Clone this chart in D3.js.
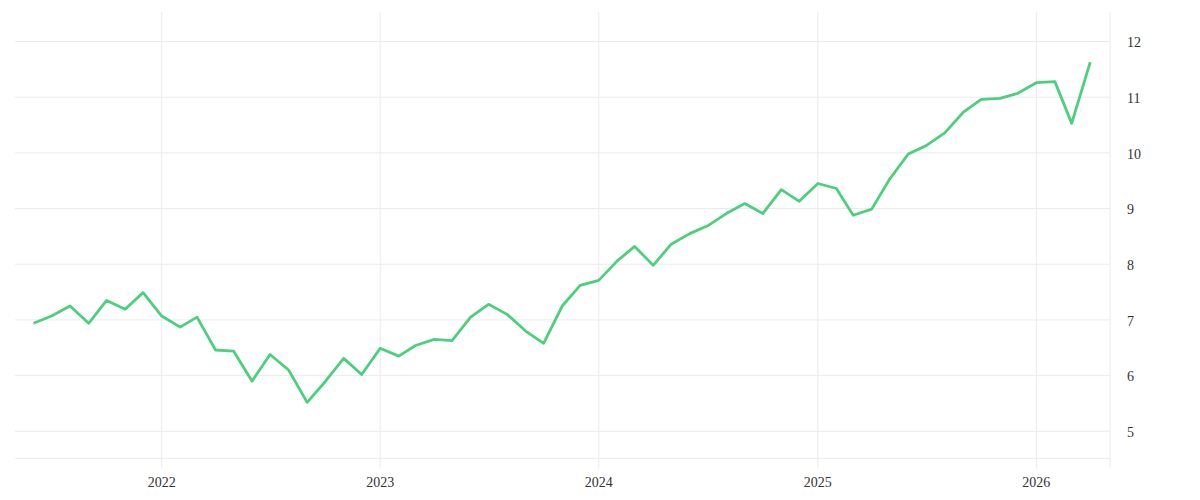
<!DOCTYPE html>
<html>
<head>
<meta charset="utf-8">
<script src="https://cdn.jsdelivr.net/npm/d3@7"></script>
<style>
  body { margin: 0; background: #fff; }
  text { font-family: "Liberation Serif", "DejaVu Serif", serif; fill: #333; }
</style>
</head>
<body>
<div id="chart"></div>
<script>
// monthly observations, Jun 2021 .. Apr 2026
var firstMonth = "2021-06-01";
var lastMonth = "2026-04-01";
var values = [
  6.94, 7.07, 7.25, 6.94, 7.35, 7.19, 7.49,
  7.07, 6.87, 7.05, 6.46, 6.44, 5.90, 6.38, 6.10, 5.52, 5.89, 6.31, 6.02,
  6.49, 6.35, 6.54, 6.65, 6.63, 7.05, 7.28, 7.10, 6.80, 6.58, 7.25, 7.62,
  7.71, 8.06, 8.32, 7.98, 8.36, 8.55, 8.69, 8.91, 9.09, 8.91, 9.34, 9.13,
  9.45, 9.36, 8.88, 8.99, 9.53, 9.98, 10.13, 10.36, 10.73, 10.96, 10.98, 11.07,
  11.26, 11.28, 10.53, 11.63
];
var yearTicks = ["2022", "2023", "2024", "2025", "2026"];
var valueTicks = [5, 6, 7, 8, 9, 10, 11, 12];

var parse = d3.timeParse("%Y-%m-%d");
var months = d3.timeMonth.range(parse(firstMonth), d3.timeMonth.offset(parse(lastMonth), 1));
var data = months.map(function(m, i) { return {date: m, value: values[i]}; });

var W = 1200, H = 500;
var plotLeft = 15, plotRight = 1110, plotTop = 12, plotBottom = 458.3;

var svg = d3.select("#chart")
  .append("svg")
    .attr("width", W)
    .attr("height", H);

var x = d3.scaleTime()
  .domain([new Date(2021, 4, 1), new Date(2026, 4, 4)])
  .range([plotLeft, plotRight]);

var y = d3.scaleLinear()
  .domain([4.515, 12.53])
  .range([plotBottom, plotTop]);

var grid = svg.append("g").attr("stroke", "#ebebeb").attr("stroke-width", 1);

// horizontal grid
grid.selectAll("line.h")
  .data(valueTicks)
  .enter()
  .append("line")
    .attr("x1", plotLeft)
    .attr("x2", plotRight)
    .attr("y1", function(d) { return y(d); })
    .attr("y2", function(d) { return y(d); });

// bottom frame line
grid.append("line")
  .attr("x1", plotLeft).attr("x2", plotRight)
  .attr("y1", plotBottom).attr("y2", plotBottom);

// vertical grid at years, running past the bottom as ticks
grid.selectAll("line.v")
  .data(yearTicks)
  .enter()
  .append("line")
    .attr("x1", function(d) { return x(new Date(+d, 0, 1)); })
    .attr("x2", function(d) { return x(new Date(+d, 0, 1)); })
    .attr("y1", plotTop)
    .attr("y2", plotBottom + 10);

// right axis line
grid.append("line")
  .attr("x1", plotRight).attr("x2", plotRight)
  .attr("y1", plotTop).attr("y2", plotBottom + 10);

// x labels
svg.append("g")
  .selectAll("text")
  .data(yearTicks)
  .enter()
  .append("text")
    .attr("x", function(d) { return x(new Date(+d, 0, 1)); })
    .attr("y", 487)
    .attr("text-anchor", "middle")
    .style("font-size", "14px")
    .text(function(d) { return d; });

// y labels on the right
svg.append("g")
  .selectAll("text")
  .data(valueTicks)
  .enter()
  .append("text")
    .attr("x", 1127)
    .attr("y", function(d) { return y(d); })
    .attr("dy", "0.42em")
    .style("font-size", "14px")
    .text(function(d) { return d; });

var line = d3.line()
  .x(function(d) { return x(d.date); })
  .y(function(d) { return y(d.value); });

svg.append("path")
  .datum(data)
  .attr("fill", "none")
  .attr("stroke", "#4cd07d")
  .attr("stroke-width", 2.8)
  .attr("stroke-linejoin", "round")
  .attr("d", line);
</script>
</body>
</html>
